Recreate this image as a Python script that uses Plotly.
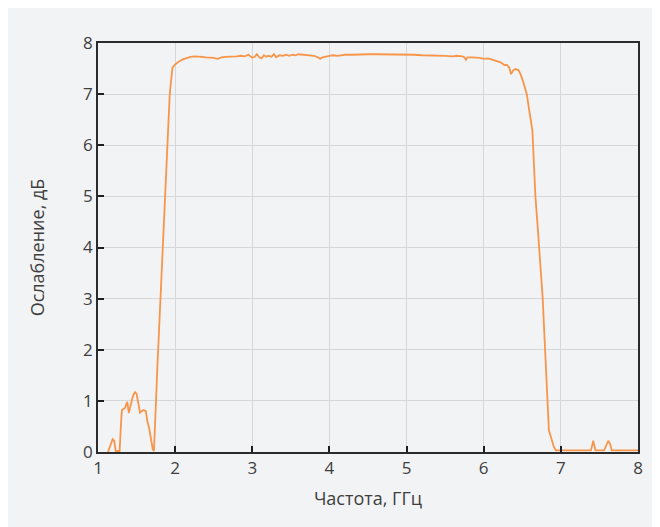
import plotly.graph_objects as go

freq_ghz = [1.13, 1.16, 1.19, 1.21, 1.23, 1.24, 1.28, 1.30, 1.31, 1.33, 1.35, 1.37, 1.38, 1.40,
            1.42, 1.44, 1.46, 1.48, 1.50, 1.52, 1.545, 1.57, 1.59, 1.62, 1.64, 1.665, 1.69, 1.71,
            1.725, 1.735, 1.745, 1.755, 1.765, 1.78, 1.79, 1.80, 1.82, 1.84, 1.87, 1.90, 1.93,
            1.95, 1.965,
            2.00, 2.05, 2.10, 2.15, 2.20, 2.25, 2.30, 2.35, 2.40, 2.45, 2.50, 2.55, 2.60, 2.65,
            2.70, 2.75, 2.80, 2.85, 2.90, 2.95, 3.00, 3.03, 3.06, 3.09, 3.12, 3.15, 3.18, 3.21,
            3.25, 3.28, 3.31, 3.35, 3.40, 3.44, 3.48, 3.52, 3.56, 3.60, 3.65, 3.70, 3.75, 3.80,
            3.85, 3.88, 3.91, 3.95, 4.00, 4.05, 4.10, 4.15, 4.20, 4.30, 4.40, 4.50, 4.60, 4.70,
            4.80, 4.90, 5.00, 5.10, 5.20, 5.30, 5.40, 5.50, 5.60, 5.65, 5.72, 5.75, 5.77, 5.79,
            5.85, 5.95, 6.00, 6.05, 6.10, 6.17, 6.22, 6.27, 6.30, 6.33, 6.355, 6.38, 6.41, 6.45,
            6.48, 6.51, 6.54, 6.56, 6.58, 6.60, 6.62, 6.63, 6.64, 6.655, 6.67, 6.695, 6.72,
            6.745, 6.765, 6.78, 6.795, 6.81, 6.825, 6.835, 6.845, 6.86, 6.88, 6.91, 6.935,
            7.00, 7.10, 7.20, 7.30, 7.39, 7.41, 7.42, 7.43, 7.45, 7.56, 7.59, 7.615, 7.64, 7.66,
            7.80, 7.90, 8.00]

attenuation_db = [0.0, 0.15, 0.25, 0.22, 0.02, 0.02, 0.02, 0.6, 0.82, 0.84, 0.86, 0.95, 0.98, 0.76,
                  0.92, 1.02, 1.12, 1.17, 1.14, 1.0, 0.77, 0.8, 0.82, 0.80, 0.6, 0.45, 0.2, 0.05,
                  0.02, 0.3, 0.7, 1.1, 1.5, 2.0, 2.4, 2.9, 3.4, 4.0, 5.0, 6.0, 7.0,
                  7.3, 7.52,
                  7.58, 7.64, 7.68, 7.71, 7.73, 7.74, 7.74, 7.73, 7.72, 7.72, 7.71, 7.69, 7.72, 7.73,
                  7.73, 7.74, 7.74, 7.75, 7.74, 7.77, 7.71, 7.73, 7.78, 7.72, 7.70, 7.76, 7.73, 7.75,
                  7.73, 7.78, 7.72, 7.76, 7.75, 7.77, 7.75, 7.77, 7.76, 7.78, 7.77, 7.77, 7.76, 7.75,
                  7.72, 7.69, 7.72, 7.74, 7.75, 7.76, 7.75, 7.76, 7.77, 7.77, 7.78, 7.78, 7.78, 7.78,
                  7.78, 7.77, 7.77, 7.77, 7.76, 7.76, 7.76, 7.75, 7.74, 7.75, 7.74, 7.72, 7.67, 7.72,
                  7.72, 7.71, 7.69, 7.70, 7.68, 7.65, 7.62, 7.57, 7.57, 7.52, 7.39, 7.46, 7.49, 7.47,
                  7.38, 7.25, 7.12, 6.99, 6.78, 6.55, 6.40, 6.30, 6.0, 5.5, 5.0, 4.5, 4.0,
                  3.5, 3.0, 2.5, 2.0, 1.5, 1.0, 0.6, 0.42, 0.35, 0.23, 0.1, 0.03,
                  0.03, 0.03, 0.03, 0.03, 0.03, 0.15, 0.22, 0.15, 0.03, 0.03, 0.15, 0.22, 0.15, 0.03,
                  0.03, 0.03, 0.03]

x_ticks = [1, 2, 3, 4, 5, 6, 7, 8]
y_ticks = [0, 1, 2, 3, 4, 5, 6, 7, 8]
x_title = "Частота, ГГц"
y_title = "Ослабление, дБ"

BG = "#f2f3f5"
TEXT = "#3e3e3e"

fig = go.Figure()
fig.add_trace(go.Scatter(x=freq_ghz, y=attenuation_db, mode="lines",
                         line=dict(color="#f7964a", width=1.8), showlegend=False))

axis_common = dict(
    showline=True, linecolor="#2b2b2b", linewidth=1.6, mirror=True,
    showgrid=True, gridcolor="#d6d7d9", gridwidth=1.3,
    ticks="inside", ticklen=6, tickwidth=2, tickcolor="#1e1e1e",
    zeroline=False,
    tickfont=dict(family="Open Sans", size=17, color=TEXT),
)

fig.update_xaxes(range=[1, 8], tickvals=x_ticks, ticktext=[str(v) for v in x_ticks],
                 title=dict(text=x_title, font=dict(family="Open Sans", size=18, color=TEXT),
                            standoff=14),
                 **axis_common)
fig.update_yaxes(range=[0, 8], tickvals=y_ticks, ticktext=[str(v) for v in y_ticks],
                 title=dict(text=y_title, font=dict(family="Open Sans", size=18, color=TEXT),
                            standoff=34),
                 **axis_common)

fig.update_layout(
    width=660, height=527,
    margin=dict(l=90, r=30, t=35, b=83),
    paper_bgcolor=BG, plot_bgcolor=BG,
    font=dict(family="Open Sans", color=TEXT),
)

fig.write_html("out.html")
